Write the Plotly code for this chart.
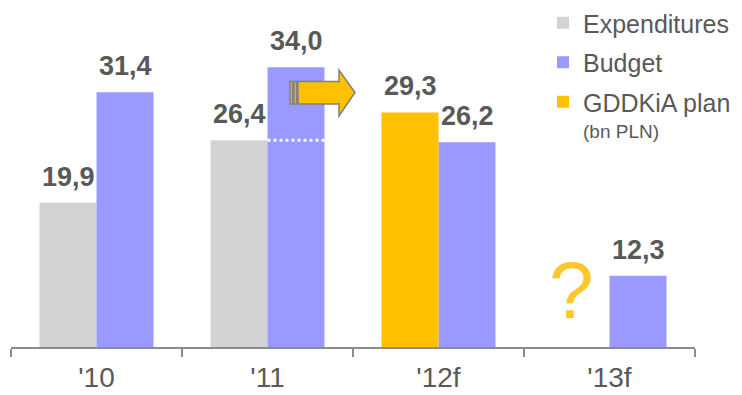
import plotly.graph_objects as go

# ---- data ----
categories = ["'10", "'11", "'12f", "'13f"]
expenditures = [19.9, 26.4, None, None]
budget = [31.4, 34.0, 26.2, 12.3]
gddkia_plan = [None, None, 29.3, None]
series_names = ["Expenditures", "Budget", "GDDKiA plan"]
unit_note = "(bn PLN)"

# ---- style / layout constants ----
W, H = 742, 395
L, R, T, B = 11, 47, 0, 48
Y_MIN, PX_PER_UNIT = 4.9, 9.613
PW, PH = W - L - R, H - T - B
Y_MAX = Y_MIN + PH / PX_PER_UNIT

C_EXP, C_BUD, C_PLAN = "#D3D3D3", "#9999FF", "#FFC000"
TXT = "#595959"
AX = "#8C8C8C"
FONT = "Liberation Sans, Arial, sans-serif"


def fmt(v):
    return f"{v:.1f}".replace(".", ",")


def px_x(px):
    return (px - L) / PW


def px_y(py):
    return (H - B - py) / PH


fig = go.Figure()
fig.add_trace(go.Bar(name=series_names[0], x=categories, y=expenditures,
                     marker=dict(color=C_EXP, line=dict(width=0)),
                     offsetgroup="a", legendgroup="g1"))
fig.add_trace(go.Bar(name=series_names[1], x=categories, y=budget,
                     marker=dict(color=C_BUD, line=dict(width=0)),
                     offsetgroup="b", legendgroup="g2"))
fig.add_trace(go.Bar(name=series_names[2], x=categories, y=gddkia_plan,
                     marker=dict(color=C_PLAN, line=dict(width=0)),
                     offsetgroup="a", legendgroup="g3"))

annotations = []
label_font = dict(size=27, color=TXT, family=FONT)
# value labels: left slot (expenditures / plan) at i-1/6, right slot (budget) at i+1/6
for i, cat in enumerate(categories):
    left_val = expenditures[i] if expenditures[i] is not None else gddkia_plan[i]
    if left_val is not None:
        annotations.append(dict(x=i - 1 / 6, y=left_val, xref="x", yref="y",
                                text=f"<b>{fmt(left_val)}</b>", showarrow=False,
                                yanchor="bottom", yshift=9, font=label_font))
    if budget[i] is not None:
        annotations.append(dict(x=i + 1 / 6, y=budget[i], xref="x", yref="y",
                                text=f"<b>{fmt(budget[i])}</b>", showarrow=False,
                                yanchor="bottom", yshift=9, font=label_font))

# question mark for the missing expenditure in '13f
annotations.append(dict(x=3 - 1 / 6, y=px_y(290), xref="x", yref="paper",
                        text="?", showarrow=False, xshift=-10, yanchor="middle",
                        font=dict(size=80, color="#FFC72C", family=FONT)))
# unit note under legend
annotations.append(dict(x=px_x(581), y=px_y(131), xref="paper", yref="paper",
                        text=unit_note, showarrow=False, xanchor="left",
                        yanchor="middle",
                        font=dict(size=19, color=TXT, family=FONT)))

shapes = []
# dotted line at '11 expenditure level across the budget bar
shapes.append(dict(type="line", xref="x", yref="y", x0=1, x1=1 + 1 / 3,
                   y0=expenditures[1], y1=expenditures[1],
                   line=dict(color="white", width=3, dash="dot"), layer="above"))


def poly(pts):
    s = "M " + " L ".join(f"{px_x(a):.5f},{px_y(b):.5f}" for a, b in pts) + " Z"
    return s


arrow_style = dict(type="path", xref="paper", yref="paper",
                   fillcolor=C_PLAN, line=dict(color="#808080", width=1.5),
                   layer="above")
shapes.append(dict(path=poly([(290, 81.5), (292.5, 81.5), (292.5, 104), (290, 104)]),
                   **arrow_style))
shapes.append(dict(path=poly([(294, 81.5), (296.5, 81.5), (296.5, 104), (294, 104)]),
                   **arrow_style))
shapes.append(dict(path=poly([(298, 81.5), (339, 81.5), (339, 70), (355, 92.5),
                              (339, 116), (339, 104), (298, 104)]),
                   **arrow_style))

fig.update_layout(
    width=W, height=H,
    margin=dict(l=L, r=R, t=T, b=B, autoexpand=False),
    paper_bgcolor="white", plot_bgcolor="white",
    barmode="group", bargap=1 / 3, bargroupgap=0,
    font=dict(family=FONT, color=TXT),
    showlegend=True,
    legend=dict(x=px_x(543), y=1.0, xanchor="left", yanchor="top",
                font=dict(size=25, color=TXT, family=FONT),
                traceorder="grouped", tracegroupgap=4,
                bgcolor="rgba(0,0,0,0)", itemclick=False),
    xaxis=dict(type="category", range=[-0.5, 3.5], showgrid=False,
               showline=True, linecolor=AX, linewidth=2,
               ticks="outside", tickson="boundaries", ticklen=8,
               tickcolor=AX, tickwidth=1.5, ticklabelstandoff=4,
               tickfont=dict(size=28, color=TXT, family=FONT)),
    yaxis=dict(range=[Y_MIN, Y_MAX], visible=False, showgrid=False, zeroline=False),
    annotations=annotations,
    shapes=shapes,
)

fig.write_html("out.html")
